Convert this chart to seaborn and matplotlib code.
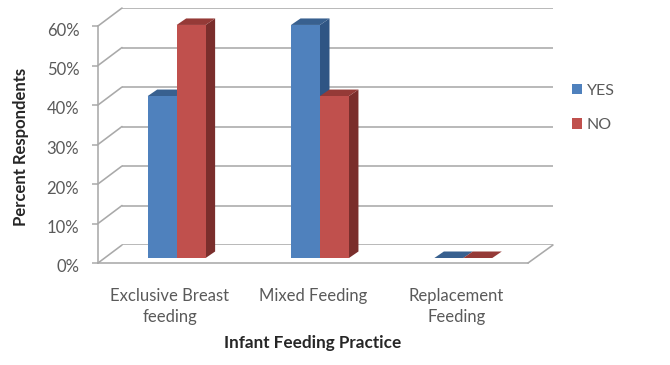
import numpy as np
import pandas as pd
import matplotlib
matplotlib.use("Agg")
import matplotlib.pyplot as plt
from matplotlib.patches import Polygon
from matplotlib.transforms import ScaledTranslation
import seaborn as sns

categories = ["Exclusive Breast\nfeeding", "Mixed Feeding", "Replacement\nFeeding"]
yes_values = [41, 59, 0]
no_values = [59, 41, 0]
series_names = ["YES", "NO"]
percent_ticks = [0, 10, 20, 30, 40, 50, 60]

bar_colors = {"YES": "#4F81BD", "NO": "#C0504D"}
side_colors = {"#4F81BD": "#2F5584", "#C0504D": "#7A2E2C"}
top_colors = {"#4F81BD": "#38608F", "#C0504D": "#953A37"}
grid_color = "#A9A9A9"
text_color = "#5A5A5A"

W, H = 670, 365
DEPTH_X, DEPTH_Y = 9.5, 6.5

sns.set_style("white")
plt.rcParams["font.family"] = ["Lato", "DejaVu Sans"]


def box(left, right, bottom, top):
	# pixel box (y counted from the top of the image) to figure fractions
	return [left / W, 1 - bottom / H, (right - left) / W, (bottom - top) / H]


df = pd.DataFrame({
	"category": categories * 2,
	"series": [series_names[0]] * 3 + [series_names[1]] * 3,
	"percent": yes_values + no_values,
})

fig = plt.figure(figsize=(W / 100, H / 100), dpi=100)

# pixel canvas for the parts of the fake 3D that have no axis of their own
canvas = fig.add_axes([0, 0, 1, 1], zorder=0)
canvas.set_xlim(0, W)
canvas.set_ylim(H, 0)
canvas.axis("off")

# back wall with the gridlines
back = fig.add_axes(box(122, 553, 245, 8), zorder=1)
back.patch.set_alpha(0)
back.set_ylim(0, 60)
back.set_xticks([])
back.set_yticks(percent_ticks)
back.tick_params(left=False, labelleft=False)
back.grid(axis="y", color=grid_color, lw=1.15)
sns.despine(ax=back, left=True, bottom=True)

# front plane carries the axis, ticks and labels
front = fig.add_axes(box(98, 528, 263, 26), zorder=2)
front.patch.set_alpha(0)
front.set_xlim(-0.5, 2.5)
front.set_ylim(0, 60)
front.set_xticks(range(len(categories)))
front.set_xticklabels(categories, fontsize=12, color=text_color, linespacing=1.35)
front.set_yticks(percent_ticks)
front.set_yticklabels(["{}%".format(p) for p in percent_ticks], fontsize=12, color=text_color)
front.tick_params(axis="x", length=0, pad=18)
front.tick_params(axis="y", left=True, length=4.5, width=1.1, color=grid_color, pad=9)
# the reference sets its percent labels a little below the tick marks
label_shift = ScaledTranslation(0, -3 / 100, fig.dpi_scale_trans)
for label in front.get_yticklabels():
	label.set_transform(label.get_transform() + label_shift)
sns.despine(ax=front)
for side in ["left", "bottom"]:
	front.spines[side].set_color(grid_color)
	front.spines[side].set_linewidth(1.15)
front.set_xlabel("Infant Feeding Practice", fontsize=12.3, fontweight="bold", color="#262626")
front.xaxis.set_label_coords(0.5, -0.305)
front.set_ylabel("Percent Respondents", fontsize=12, fontweight="bold", color="#262626")
front.yaxis.set_label_coords(-0.16, 0.49)

# diagonals joining the front plane to the back wall
for p in percent_ticks:
	y0 = front.transData.transform((-0.5, p))[1]
	x1, y1 = back.transData.transform((back.get_xlim()[0], p))
	canvas.plot([98, x1], [H - y0, H - y1], color=grid_color, lw=1.15, zorder=1)
canvas.plot([528, 553], [263, 245], color=grid_color, lw=1.15, zorder=1)

# the bars sit half way into the depth of the floor
bars = fig.add_axes(box(105, 535, 258, 21), zorder=3)
bars.patch.set_alpha(0)
sns.barplot(data=df, x="category", y="percent", hue="series", order=categories,
	hue_order=series_names, palette=bar_colors, saturation=1, width=0.404, gap=0,
	linewidth=0, ax=bars)
bars.set_xlim(-0.5, 2.5)
bars.set_ylim(0, 60)
bars.axis("off")
sns.move_legend(bars, loc="upper left", bbox_to_anchor=(1.085, 0.736), frameon=False, title=None,
	fontsize=11.5, handlelength=0.66, handleheight=0.66, handletextpad=0.28,
	labelspacing=1.3, borderpad=0, borderaxespad=0)
for t in bars.get_legend().get_texts():
	t.set_color(text_color)

# side and top faces, worked out from the bars seaborn drew
fig.canvas.draw()
for i, patch in enumerate(bars.patches):
	if patch.get_width() == 0:
		continue
	x0 = patch.get_x()
	x1 = x0 + patch.get_width()
	h = patch.get_height()
	(px0, py0), (px1, py1) = bars.transData.transform([(x0, 0), (x1, h)])
	py0, py1 = H - py0, H - py1
	color = matplotlib.colors.to_hex(patch.get_facecolor()).upper()
	side = [(px1, py0), (px1 + DEPTH_X, py0 - DEPTH_Y), (px1 + DEPTH_X, py1 - DEPTH_Y), (px1, py1)]
	top = [(px0, py1), (px0 + DEPTH_X, py1 - DEPTH_Y), (px1 + DEPTH_X, py1 - DEPTH_Y), (px1, py1)]
	canvas.add_patch(Polygon(side, closed=True, fc=side_colors[color], lw=0, zorder=5 + i))
	canvas.add_patch(Polygon(top, closed=True, fc=top_colors[color], lw=0, zorder=5 + i))

# canvas holds the depth faces, so it has to be above the gridlines
canvas.set_zorder(1.5)
canvas.patch.set_alpha(0)

fig.savefig("out.png", dpi=100)
